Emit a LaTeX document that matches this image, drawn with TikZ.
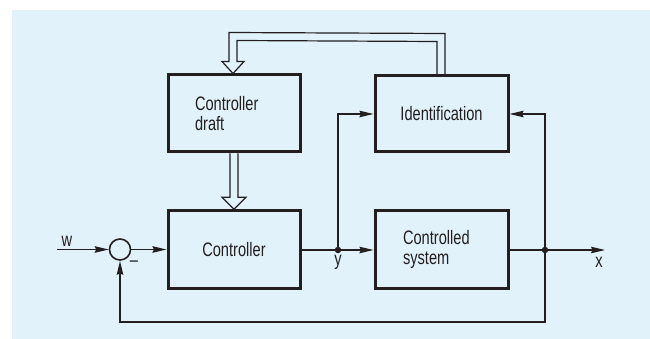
\documentclass[tikz,border=0pt]{standalone}
\usepackage{fontspec}
\setmainfont{Liberation Sans}[FakeStretch=0.75]
\usetikzlibrary{arrows.meta,calc}
\definecolor{bgblue}{HTML}{E1F2FA}
\definecolor{ink}{HTML}{231F20}
\begin{document}
\begin{tikzpicture}[x=1pt,y=-1pt,
  every node/.style={font=\fontsize{19.5}{20}\selectfont, text=ink},
  blockbox/.style={draw=ink, line width=3pt, minimum width=132pt, minimum height=77pt, inner sep=0pt},
  sumnode/.style={draw=ink, line width=1.6pt, circle, minimum size=21pt, inner sep=0pt},
  dotnode/.style={fill=ink, circle, minimum size=6.5pt, inner sep=0pt},
  conn/.style={draw=ink, line width=1.5pt},
  arr/.style={conn, -{Stealth[length=14pt,width=6.5pt,inset=1.5pt]}},
  hollow/.style={draw=ink, line width=1.2pt, line join=miter},
  lbl/.style={inner sep=0pt}
]
\useasboundingbox (0,0) rectangle (650,339);
\fill[bgblue] (12,10) rectangle (650,339);

% blocks
\node[blockbox, text width=78pt, align=left] (draft) at (234,113.5) {Controller\\draft};
\node[blockbox, minimum height=78pt] (ctrl) at (234,249.7) {Controller};
\node[blockbox, minimum width=133pt, minimum height=76pt] (ident) at (441.5,114) {Identification};
\node[blockbox, minimum width=133pt, minimum height=78pt, text width=77pt, align=left] (plant) at (441.5,249.7) {Controlled\\system};

% summing junction and branch points
\node[sumnode] (sum) at (120,249.5) {};
\node[dotnode] (j1) at (338,250) {};
\node[dotnode] (j2) at (545,250) {};
\coordinate (win) at (57,249.5);
\coordinate (xout) at (605,250);
\coordinate (fb) at (545,322);

% signal connectors
\draw[arr] (win) -- (sum.west);
\draw[arr] (sum.east) -- (sum.east -| ctrl.west);
\draw[conn] (ctrl.east |- j1) -- (j1);
\draw[arr] (j1) -- (j1 -| plant.west);
\draw[conn] (plant.east |- j2) -- (j2);
\draw[arr] (j2) -- (xout);
\draw[arr] (j1) |- (ident.west);
\draw[arr] (j2) |- (ident.east);
\draw[arr] (j2) -- (fb) -| (sum.south);

% labels
\node[lbl] (wl) at (67,241) {w};
\node[lbl] (yl) at (338,262) {y};
\node[lbl] (xl) at (599,262) {x};
\node[lbl] (ml) at (134,264) {–};

% hollow arrow draft -> controller
\draw[hollow] ($(draft.south)+(-4,0)$) -- ($(ctrl.north)+(-4,-12)$)
  -- ($(ctrl.north)+(-12,-12)$) -- (ctrl.north) -- ($(ctrl.north)+(12,-12)$)
  -- ($(ctrl.north)+(4,-12)$) -- ($(draft.south)+(4,0)$);

% hollow arrow identification -> draft
\draw[hollow] ($(ident.north)+(3.5,0)$) -- ($(ident.north)+(3.5,-41)$)
  -- ($(draft.north)+(-5,-41)$) -- ($(draft.north)+(-5,-12)$)
  -- ($(draft.north)+(-12,-12)$) -- ($(draft.north)+(-1,0)$)
  -- ($(draft.north)+(10,-12)$) -- ($(draft.north)+(3,-12)$)
  -- ($(draft.north)+(3,-33)$) -- ($(ident.north)+(-4.5,-33)$)
  -- ($(ident.north)+(-4.5,0)$);
\end{tikzpicture}
\end{document}
